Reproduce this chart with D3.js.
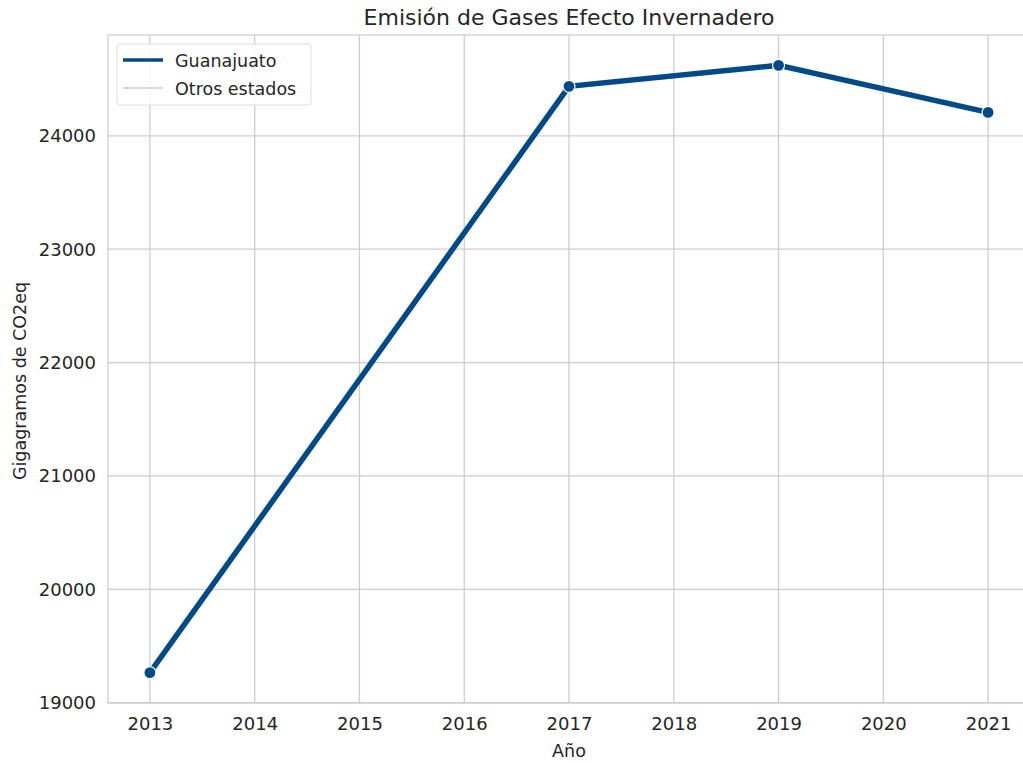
<!DOCTYPE html>
<html>
<head>
<meta charset="utf-8">
<script src="https://cdn.jsdelivr.net/npm/d3@7"></script>
<style>
  body { margin: 0; background: #fff; }
  text { font-family: "DejaVu Sans", sans-serif; fill: #262626; }
</style>
</head>
<body>
<div id="chart"></div>
<script>
// data
const years = [2013, 2017, 2019, 2021];
const guanajuato = [19265, 24437, 24622, 24207];
const xTicks = [2013, 2014, 2015, 2016, 2017, 2018, 2019, 2020, 2021];
const yTicks = [19000, 20000, 21000, 22000, 23000, 24000];
const legendLabels = ["Guanajuato", "Otros estados"];

let svgWidth = 1023;
let svgHeight = 763;
let margin = { top: 35, right: -7, bottom: 60, left: 108 };

let width = svgWidth - margin.left - margin.right;
let height = svgHeight - margin.top - margin.bottom;

let svg = d3.select("#chart")
    .append("svg")
    .attr("width", svgWidth)
    .attr("height", svgHeight);

let chartGroup = svg.append("g")
    .attr("transform", `translate(${margin.left}, ${margin.top})`);

// scales, 5% padding like matplotlib
let xScale = d3.scaleLinear()
    .domain([2012.6, 2021.4])
    .range([0, width]);

let yMin = d3.min(guanajuato), yMax = d3.max(guanajuato);
let pad = (yMax - yMin) * 0.05;
let yScale = d3.scaleLinear()
    .domain([yMin - pad, yMax + pad])
    .range([height, 0]);

// grid
chartGroup.append("g")
    .selectAll("line")
    .data(xTicks)
    .enter()
    .append("line")
    .attr("x1", d => xScale(d)).attr("x2", d => xScale(d))
    .attr("y1", 0).attr("y2", height)
    .attr("stroke", "#cccccc").attr("stroke-width", 1.25);

chartGroup.append("g")
    .selectAll("line")
    .data(yTicks)
    .enter()
    .append("line")
    .attr("x1", 0).attr("x2", width)
    .attr("y1", d => yScale(d)).attr("y2", d => yScale(d))
    .attr("stroke", "#cccccc").attr("stroke-width", 1.25);

// axes
let xAxis = d3.axisBottom(xScale).tickValues(xTicks).tickFormat(d3.format("d")).tickSize(0).tickPadding(14);
let yAxis = d3.axisLeft(yScale).tickValues(yTicks).tickFormat(d3.format("d")).tickSize(0).tickPadding(12);

let gx = chartGroup.append("g")
    .attr("transform", `translate(0, ${height})`)
    .call(xAxis);
let gy = chartGroup.append("g").call(yAxis);

[gx, gy].forEach(g => {
  g.select(".domain").remove();
  g.selectAll("text").attr("font-size", "18px").style("fill", "#262626");
});

// spines
chartGroup.append("rect")
    .attr("x", 0).attr("y", 0)
    .attr("width", width).attr("height", height)
    .attr("fill", "none")
    .attr("stroke", "#cccccc").attr("stroke-width", 1.25);

// line
let line = d3.line()
    .x((d, i) => xScale(years[i]))
    .y(d => yScale(d));

chartGroup.append("path")
    .datum(guanajuato)
    .attr("d", line)
    .attr("fill", "none")
    .attr("stroke", "#004a87")
    .attr("stroke-width", 5.5);

chartGroup.selectAll("circle")
    .data(guanajuato)
    .enter()
    .append("circle")
    .attr("cx", (d, i) => xScale(years[i]))
    .attr("cy", d => yScale(d))
    .attr("r", 6)
    .attr("fill", "#004a87")
    .attr("stroke", "#ffffff")
    .attr("stroke-width", 1.2);

// title and labels
svg.append("text")
    .attr("x", 569).attr("y", 25)
    .attr("text-anchor", "middle")
    .attr("font-size", "22px")
    .text("Emisión de Gases Efecto Invernadero");

svg.append("text")
    .attr("x", 569).attr("y", 757)
    .attr("text-anchor", "middle")
    .attr("font-size", "17.5px")
    .text("Año");

svg.append("text")
    .attr("transform", "rotate(-90)")
    .attr("x", -381).attr("y", 26)
    .attr("text-anchor", "middle")
    .attr("font-size", "17.5px")
    .text("Gigagramos de CO2eq");

// legend
let legend = chartGroup.append("g").attr("transform", "translate(9, 9)");
legend.append("rect")
    .attr("width", 194).attr("height", 61)
    .attr("rx", 3)
    .attr("fill", "#ffffff").attr("fill-opacity", 0.85)
    .attr("stroke", "#dddddd").attr("stroke-width", 1);

let legendColors = ["#004a87", "#cccccc"];
let legendWidths = [3.5, 1.5];
legend.selectAll("g.item")
    .data(legendLabels)
    .enter()
    .append("g")
    .attr("class", "item")
    .attr("transform", (d, i) => `translate(0, ${16 + i * 28})`)
    .each(function(d, i) {
      let g = d3.select(this);
      g.append("line")
        .attr("x1", 6).attr("x2", 46)
        .attr("y1", 0).attr("y2", 0)
        .attr("stroke", legendColors[i])
        .attr("stroke-width", legendWidths[i]);
      g.append("text")
        .attr("x", 58).attr("y", 6.5)
        .attr("font-size", "17.5px")
        .text(d);
    });
</script>
</body>
</html>
